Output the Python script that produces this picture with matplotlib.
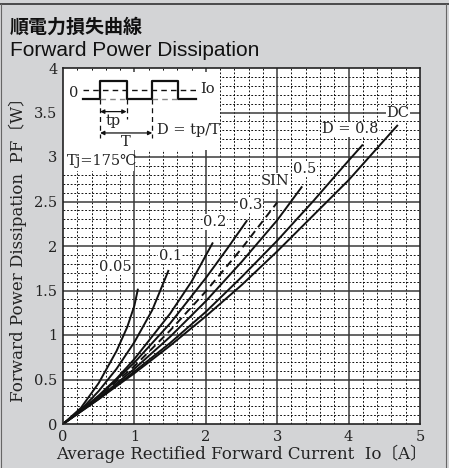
import matplotlib
matplotlib.use("Agg")
import matplotlib.pyplot as plt
from matplotlib.lines import Line2D
from matplotlib.patches import Rectangle, FancyArrowPatch

# ---- data ----
io_d005 = [0, 0.25, 0.5, 0.75, 0.9, 1.0, 1.05]
pf_d005 = [0, 0.18, 0.46, 0.82, 1.09, 1.33, 1.52]

io_d01 = [0, 0.25, 0.5, 0.75, 1.0, 1.25, 1.48]
pf_d01 = [0, 0.16, 0.37, 0.62, 0.92, 1.28, 1.73]

io_d02 = [0, 0.25, 0.5, 0.75, 1.0, 1.5, 1.8, 2.1]
pf_d02 = [0, 0.15, 0.32, 0.51, 0.73, 1.24, 1.60, 2.04]

io_d03 = [0, 0.5, 1.0, 1.5, 2.0, 2.3, 2.58]
pf_d03 = [0, 0.31, 0.69, 1.13, 1.64, 1.97, 2.29]

io_sin = [0, 0.5, 1.0, 1.5, 2.0, 2.5, 3.0]
pf_sin = [0, 0.31, 0.65, 1.05, 1.49, 1.97, 2.49]

io_d05 = [0, 0.5, 1.0, 1.5, 2.0, 2.5, 3.0, 3.35]
pf_d05 = [0, 0.29, 0.62, 0.98, 1.38, 1.82, 2.29, 2.67]

io_d08 = [0, 0.5, 1.0, 1.5, 2.0, 2.5, 3.0, 3.5, 4.0, 4.2]
pf_d08 = [0, 0.28, 0.59, 0.91, 1.26, 1.65, 2.06, 2.50, 2.96, 3.14]

io_dc = [0, 0.5, 1.0, 1.5, 2.0, 2.5, 3.0, 3.5, 4.0, 4.69]
pf_dc = [0, 0.28, 0.57, 0.88, 1.21, 1.56, 1.94, 2.34, 2.74, 3.36]

curve_labels = ["0.05", "0.1", "0.2", "0.3", "SIN", "0.5", "D = 0.8", "DC"]

x_ticks = [0, 1, 2, 3, 4, 5]
y_ticks = [0, 0.5, 1, 1.5, 2, 2.5, 3, 3.5, 4]
y_tick_labels = ["0", "0.5", "1", "1.5", "2", "2.5", "3", "3.5", "4"]

title_jp = "順電力損失曲線"
title_en = "Forward Power Dissipation"
xlabel = "Average Rectified Forward Current  Io〔A〕"
ylabel = "Forward Power Dissipation  PF〔W〕"

# ---- figure ----
W, H = 449, 468
fig = plt.figure(figsize=(W / 100, H / 100), dpi=100)
bg = "#d3d4d6"
fig.patch.set_facecolor(bg)

serif = ["DejaVu Serif", "Noto Sans CJK JP"]
txt = "#222222"

# frame lines of the panel
fig.add_artist(Line2D([0, 1], [1 - 4 / H, 1 - 4 / H], color="#333333", lw=1.2, transform=fig.transFigure))
fig.add_artist(Line2D([1 / W, 1 / W], [0, 1 - 4 / H], color="#666666", lw=0.8, transform=fig.transFigure))
fig.add_artist(Line2D([446 / W, 446 / W], [0, 1 - 4 / H], color="#666666", lw=0.8, transform=fig.transFigure))

fig.text(10 / W, 1 - 33 / H, title_jp, fontsize=13.7, fontweight="bold",
         family=["Noto Sans CJK JP"], color="#111111", va="baseline")
fig.text(10 / W, 1 - 56 / H, title_en, fontsize=15,
         family=["Liberation Sans", "DejaVu Sans"], color="#111111", va="baseline")

ax = fig.add_axes([63 / W, 1 - 424 / H, (420 - 63) / W, (424 - 68) / H])
ax.set_facecolor("white")
ax.set_xlim(0, 5)
ax.set_ylim(0, 4)

# grid
for v in [i * 0.2 for i in range(1, 25)]:
    if abs(v - round(v)) > 1e-6:
        ax.axvline(v, color="black", lw=0.65, ls=(0, (2, 2)), zorder=1)
for v in [i * 0.1 for i in range(1, 40)]:
    if abs(v * 2 - round(v * 2)) > 1e-6:
        ax.axhline(v, color="black", lw=0.65, ls=(0, (2, 2)), zorder=1)
for v in [1, 2, 3, 4]:
    ax.axvline(v, color="#3a3a3a", lw=1.1, zorder=1.5)
for v in [0.5, 1, 1.5, 2, 2.5, 3, 3.5]:
    ax.axhline(v, color="#3a3a3a", lw=1.1, zorder=1.5)

for s in ax.spines.values():
    s.set_color("#222222")
    s.set_linewidth(1.2)
    s.set_zorder(6)

ax.set_xticks(x_ticks)
ax.set_xticklabels([str(t) for t in x_ticks], family=serif, fontsize=10.5, color=txt)
ax.set_yticks(y_ticks)
ax.set_yticklabels(y_tick_labels, family=serif, fontsize=10.5, color=txt)
ax.tick_params(length=0, pad=4)
ax.set_xlabel(xlabel, family=serif, fontsize=12, color=txt, labelpad=1)
ax.set_ylabel(ylabel, family=serif, fontsize=12, color=txt, labelpad=5)

# inset area (white)
ax.add_patch(Rectangle((0, 3.08), 2.2, 0.87, facecolor="white", edgecolor="none", zorder=3))
ax.add_patch(Rectangle((0, 2.84), 1.0, 0.25, facecolor="white", edgecolor="none", zorder=3))

# curves
lw = 1.4
series = [(io_d005, pf_d005), (io_d01, pf_d01), (io_d02, pf_d02), (io_d03, pf_d03),
          (io_sin, pf_sin), (io_d05, pf_d05), (io_d08, pf_d08), (io_dc, pf_dc)]
for i, (xs, ys) in enumerate(series):
    ls = (0, (4, 2.5)) if curve_labels[i] == "SIN" else "-"
    ax.plot(xs, ys, color="#111111", lw=lw, ls=ls, zorder=4, solid_capstyle="butt")

label_pos = [(0.73, 1.76), (1.5, 1.89), (2.13, 2.27), (2.63, 2.46),
             (2.97, 2.73), (3.38, 2.87), (4.02, 3.31), (4.69, 3.49)]
for lab, (x, y) in zip(curve_labels, label_pos):
    ax.text(x, y, lab, family=serif, fontsize=10.5, color=txt, ha="center", va="center",
            zorder=5, bbox=dict(facecolor="white", edgecolor="none", pad=0.5))

ax.text(0.06, 2.96, "Tj=175℃", family=serif, fontsize=10.5, color=txt,
        ha="left", va="center", zorder=5)

# waveform sketch in inset
x0, xr1, xf1, xr2, xf2, xe = 0.275, 0.52, 0.89, 1.25, 1.61, 1.86
ylo, yhi, yav = 3.65, 3.85, 3.75
ax.plot([x0, xr1, xr1, xf1, xf1, xr2, xr2, xf2, xf2, xe],
        [ylo, ylo, yhi, yhi, ylo, ylo, yhi, yhi, ylo, ylo],
        color="#111111", lw=1.6, zorder=5)
ax.plot([x0, xe], [yav, yav], color="#111111", lw=1.0, ls=(0, (4, 3)), zorder=5)
ax.plot([xr1, xf1], [ylo, ylo], color="#888888", lw=1.0, ls=(0, (4, 3)), zorder=5)
ax.plot([xr2, xf2], [ylo, ylo], color="#888888", lw=1.0, ls=(0, (4, 3)), zorder=5)
ax.plot([xr1, xr1], [ylo, 3.21], color="#111111", lw=0.9, ls=(0, (4, 3)), zorder=5)
ax.plot([xf1, xf1], [ylo, 3.43], color="#111111", lw=0.9, ls=(0, (4, 3)), zorder=5)
ax.plot([xr2, xr2], [ylo, 3.21], color="#111111", lw=0.9, ls=(0, (4, 3)), zorder=5)
for (xa, xb, yy) in [(xr1, xf1, 3.51), (xr1, xr2, 3.27)]:
    ax.add_patch(FancyArrowPatch((xa, yy), (xb, yy), arrowstyle="<|-|>", mutation_scale=6,
                                 color="#111111", lw=0.9, zorder=5, shrinkA=0, shrinkB=0))
ax.text(0.70, 3.41, "tp", family=serif, fontsize=10.5, color=txt, ha="center", va="center", zorder=5)
ax.text(0.88, 3.17, "T", family=serif, fontsize=10.5, color=txt, ha="center", va="center", zorder=5)
ax.text(1.76, 3.30, "D = tp/T", family=serif, fontsize=10.5, color=txt, ha="center", va="center", zorder=5)
ax.text(2.02, 3.76, "Io", family=serif, fontsize=10.5, color=txt, ha="center", va="center", zorder=5)
ax.text(0.15, 3.72, "0", family=serif, fontsize=10.5, color=txt, ha="center", va="center", zorder=5)

fig.savefig("out.png", dpi=100, facecolor=bg)
